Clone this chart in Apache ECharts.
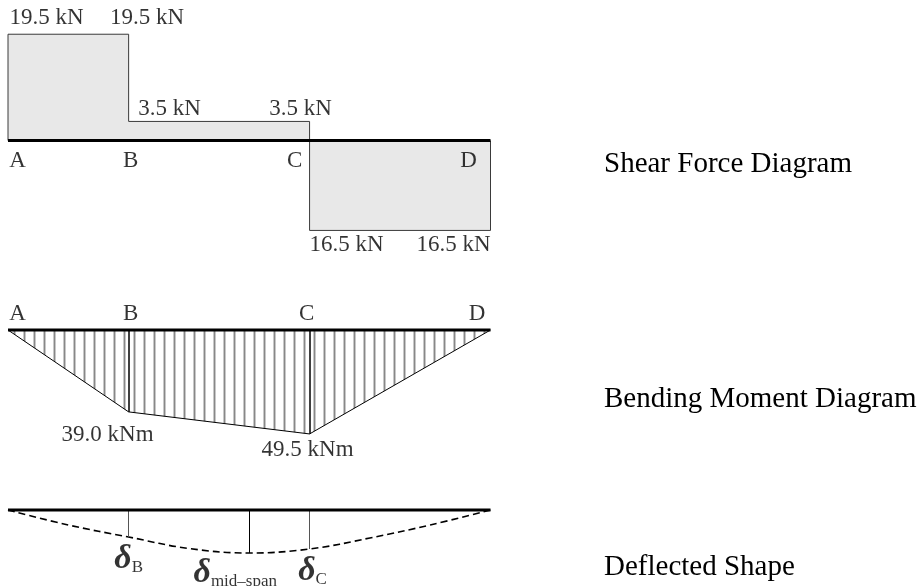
<!DOCTYPE html>
<html><head><meta charset="utf-8">
<script src="https://cdn.jsdelivr.net/npm/echarts@6/dist/echarts.min.js"></script>
<style>html,body{margin:0;padding:0;background:#fff}#c{width:924px;height:586px}</style>
</head><body><div id="c"></div>
<script>
// ---- data ----
const pointNames = ['A', 'B', 'C', 'D'];
const pointX = [0, 2, 5, 8];                 // m
const shearValues = [19.5, 3.5, -16.5];      // kN, per segment A-B, B-C, C-D
const momentValues = [0, 39.0, 49.5, 0];     // kNm at A, B, C, D
const deflX = [0, 1, 2, 3, 4, 5, 6, 7, 8];   // m
const deflValues = [0, 15, 27, 38.5, 43, 39, 28, 15, 0]; // relative deflection
const deflMarkX = [2, 4, 5];
const deflMarkNames = ['B', 'mid\u2013span', 'C'];
const panelTitles = ['Shear Force Diagram', 'Bending Moment Diagram', 'Deflected Shape'];

// ---- style ----
const SERIF = '"Liberation Serif", "Times New Roman", serif';
const FS = 23;
const chart = echarts.init(document.getElementById('c'), null, {renderer: 'canvas'});

const pc = document.createElement('canvas'); pc.width = 10; pc.height = 10;
const pg = pc.getContext('2d');
pg.fillStyle = '#c8c8c8'; pg.fillRect(3, 0, 3, 10);
pg.fillStyle = '#888888'; pg.fillRect(4, 0, 1, 10);

const L = pointX[pointX.length - 1];

function labelSeries(gi, items) {
  return {
    type: 'scatter', xAxisIndex: gi, yAxisIndex: gi, symbolSize: 0.01, clip: false, silent: true,
    itemStyle: {color: 'rgba(0,0,0,0)'}, z: 20,
    data: items.map(it => ({
      value: [it.x, it.y],
      label: Object.assign({
        show: true, position: [0, 0], align: 'center', verticalAlign: 'middle',
        formatter: it.text, offset: it.off, color: '#000', fontFamily: SERIF, fontSize: FS
      }, it.extra || {})
    }))
  };
}
function beam(gi) {
  return {type: 'line', xAxisIndex: gi, yAxisIndex: gi, data: [[0, 0], [L, 0]], symbol: 'none', silent: true,
    lineStyle: {color: '#000', width: 3}, z: 10};
}

// shear polygon
const shearPts = [[pointX[0], 0]];
shearValues.forEach((v, i) => { shearPts.push([pointX[i], v], [pointX[i + 1], v]); });
shearPts.push([L, 0]);

// shear labels
const shearLetterOff = [[9.5, 20.8], [2, 20.8], [-15, 20.8], [-22, 20.8]];
const shearValOff = [[[38.5, -16.3], [18.4, -16.3]], [[41, -12.4], [-9, -12.4]], [[37, 15], [-37, 15]]];
const shearLabels = [];
pointNames.forEach((n, i) => shearLabels.push({x: pointX[i], y: 0, text: n, off: shearLetterOff[i]}));
shearValues.forEach((v, i) => {
  const t = Math.abs(v).toFixed(1) + ' kN';
  shearLabels.push({x: pointX[i], y: v, text: t, off: shearValOff[i][0]});
  shearLabels.push({x: pointX[i + 1], y: v, text: t, off: shearValOff[i][1]});
});

// moment labels
const bmLetterOff = [[9.5, -16.3], [2, -16.3], [-3, -16.3], [-13.5, -16.3]];
const bmValOff = [null, [-21, 22.8], [-2, 15.7], null];
const bmLabels = [];
pointNames.forEach((n, i) => bmLabels.push({x: pointX[i], y: 0, text: n, off: bmLetterOff[i]}));
momentValues.forEach((m, i) => { if (bmValOff[i]) bmLabels.push({x: pointX[i], y: m, text: m.toFixed(1) + ' kNm', off: bmValOff[i]}); });
const bmVert = [];
momentValues.forEach((m, i) => { if (i > 0 && i < momentValues.length - 1) bmVert.push([{coord: [pointX[i], 0]}, {coord: [pointX[i], m]}]); });

// deflection
const deflPts = deflX.map((x, i) => [x, deflValues[i]]);
const deflMarkColors = ['#555', '#000', '#555'];
const deflLblOff = [[0, 22.5], [-14, 20], [3, 22.5]];
const deflVert = deflMarkX.map((x, k) => [{coord: [x, 0], lineStyle: {color: deflMarkColors[k]}}, {coord: [x, deflValues[deflX.indexOf(x)]]}]);
const deflLabels = deflMarkX.map((x, k) => ({
  x: x, y: deflValues[deflX.indexOf(x)], text: '{d|\u03b4}{s|' + deflMarkNames[k] + '}', off: deflLblOff[k],
  extra: {rich: {
    d: {fontFamily: SERIF, fontStyle: 'italic', fontWeight: 'bold', fontSize: 34, color: '#000'},
    s: {fontFamily: SERIF, fontSize: 17, color: '#000', verticalAlign: 'bottom'}
  }}
}));

const grids = [
  {left: 8, width: 482.5, top: 31.5, height: 218},
  {left: 8, width: 482.5, top: 288, height: 168},
  {left: 8, width: 482.5, top: 490, height: 80}
];
const xAxes = grids.map((g, i) => ({type: 'value', gridIndex: i, min: 0, max: L, show: false}));
const yAxes = [
  {type: 'value', gridIndex: 0, min: -20, max: 20, show: false},
  {type: 'value', gridIndex: 1, min: -20, max: 60, inverse: true, show: false},
  {type: 'value', gridIndex: 2, min: -20, max: 60, inverse: true, show: false}
];
const titleMid = [164.5, 399.5, 567.5];

chart.setOption({
  animation: false,
  backgroundColor: '#fff',
  title: panelTitles.map((t, i) => ({
    text: t, left: 604, top: titleMid[i] - 14.5, padding: 0,
    textStyle: {fontFamily: SERIF, fontSize: 29, fontWeight: 'normal', color: '#000', lineHeight: 29}
  })),
  grid: grids,
  xAxis: xAxes,
  yAxis: yAxes,
  series: [
    {type: 'line', xAxisIndex: 0, yAxisIndex: 0, data: shearPts, symbol: 'none', silent: true,
      lineStyle: {color: '#3a3a3a', width: 1}, areaStyle: {color: '#e8e8e8', opacity: 1}, z: 2},
    beam(0),
    labelSeries(0, shearLabels),
    {type: 'line', xAxisIndex: 1, yAxisIndex: 1, data: pointX.map((x, i) => [x, momentValues[i]]), symbol: 'none', silent: true,
      lineStyle: {color: '#000', width: 1}, areaStyle: {color: {image: pc, repeat: 'repeat'}, opacity: 1}, z: 2,
      markLine: {silent: true, symbol: ['none', 'none'], label: {show: false}, lineStyle: {color: '#000', width: 1.5, type: 'solid'}, data: bmVert}},
    beam(1),
    labelSeries(1, bmLabels),
    {type: 'line', xAxisIndex: 2, yAxisIndex: 2, data: deflPts, symbol: 'none', silent: true, smooth: 0.4,
      lineStyle: {color: '#000', width: 1.6, type: [7, 4]}, z: 2,
      markLine: {silent: true, symbol: ['none', 'none'], label: {show: false}, lineStyle: {width: 1, type: 'solid'}, data: deflVert}},
    beam(2),
    labelSeries(2, deflLabels)
  ]
});
</script></body></html>
